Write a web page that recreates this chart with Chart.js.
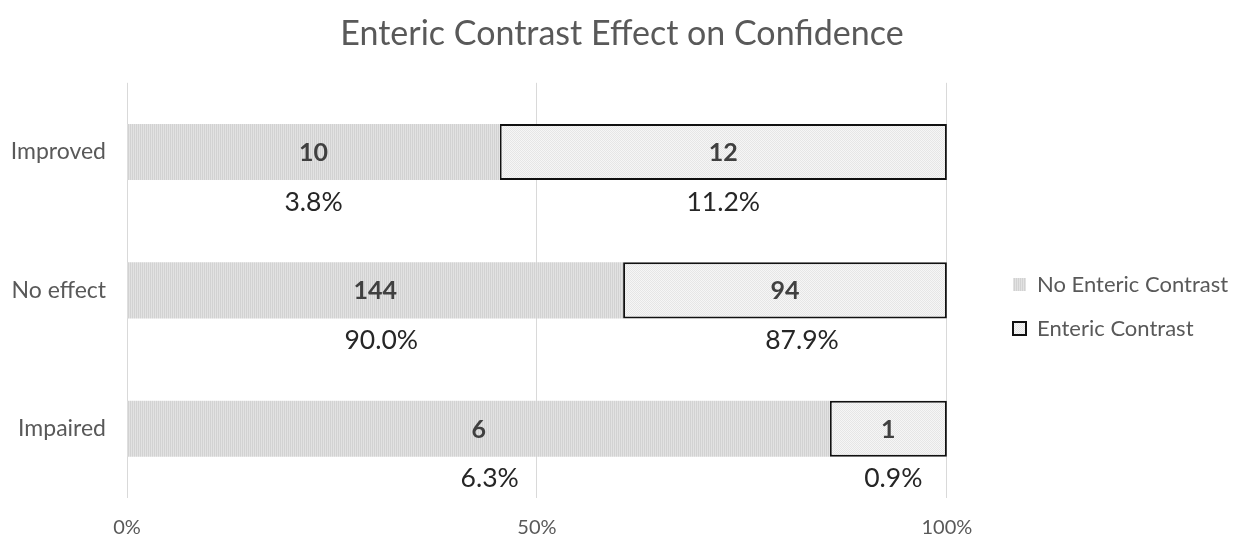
<!DOCTYPE html>
<html>
<head>
<meta charset="utf-8">
<script src="https://cdn.jsdelivr.net/npm/chart.js@4.4.1/dist/chart.umd.min.js"></script>
<style>
  html, body { margin: 0; padding: 0; background: #ffffff; }
  #wrap { width: 1244px; height: 541px; }
</style>
</head>
<body>
<div id="wrap"><canvas id="c" width="1244" height="541"></canvas></div>
<script>
// Categories and counts per group
const categories = ['Improved', 'No effect', 'Impaired'];
const noContrastCounts = [10, 144, 6];
const contrastCounts = [12, 94, 1];
// Group-percentage labels printed under each segment
const noContrastPctLabels = ['3.8%', '90.0%', '6.3%'];
const contrastPctLabels = ['11.2%', '87.9%', '0.9%'];
const xTickLabels = ['0%', '50%', '100%'];
const seriesNames = ['No Enteric Contrast', 'Enteric Contrast'];

// 100% stacked: each row split by its own total
const rowTotals = categories.map((_, i) => noContrastCounts[i] + contrastCounts[i]);
const noContrastShare = noContrastCounts.map((v, i) => v / rowTotals[i] * 100);
const contrastShare = contrastCounts.map((v, i) => v / rowTotals[i] * 100);

const FONT = 'Lato, "Open Sans", sans-serif';

function makePattern(w, h, paint) {
  const cv = document.createElement('canvas');
  cv.width = w; cv.height = h;
  const g = cv.getContext('2d');
  paint(g);
  return g.createPattern(cv, 'repeat');
}
// fine vertical stripes
const stripeFill = makePattern(2, 1, g => {
  g.fillStyle = '#d2d2d2'; g.fillRect(0, 0, 1, 1);
  g.fillStyle = '#e2e2e2'; g.fillRect(1, 0, 1, 1);
});
// fine dotted light fill
const dotFill = makePattern(2, 2, g => {
  g.fillStyle = '#f6f6f6'; g.fillRect(0, 0, 2, 2);
  g.fillStyle = '#e6e6e6'; g.fillRect(0, 0, 1, 1); g.fillRect(1, 1, 1, 1);
});

const pctLabels = [noContrastPctLabels, contrastPctLabels];
const countData = [noContrastCounts, contrastCounts];
// small horizontal nudges of the percentage labels, in px
const pctNudge = [[0, 6, 11], [0, 17, 5]];

const segmentLabels = {
  id: 'segmentLabels',
  afterDatasetsDraw(chart) {
    const ctx = chart.ctx;
    ctx.save();
    ctx.textAlign = 'center';
    ctx.textBaseline = 'middle';
    chart.data.datasets.forEach((ds, di) => {
      const meta = chart.getDatasetMeta(di);
      meta.data.forEach((bar, j) => {
        const cx = (bar.x + bar.base) / 2;
        ctx.fillStyle = '#404040';
        ctx.font = 'bold 25px ' + FONT;
        ctx.fillText(String(countData[di][j]), cx, bar.y + 1);
        ctx.fillStyle = '#262626';
        ctx.font = '26.5px ' + FONT;
        ctx.fillText(pctLabels[di][j], cx + pctNudge[di][j], bar.y + bar.height / 2 + 22);
      });
    });
    ctx.restore();
  }
};

// places the legend block right of the plot and centres the title on the page
const blockPlacement = {
  id: 'blockPlacement',
  afterLayout(chart) {
    const lg = chart.legend;
    if (lg) {
      const dx = 1013 - (lg.left + lg.options.labels.padding);
      lg.left += dx; lg.right += dx;
      lg.top += 36; lg.bottom += 36;
    }
    const tb = chart.titleBlock;
    if (tb) {
      const tx = chart.width / 2 - (tb.left + tb.right) / 2;
      tb.left += tx; tb.right += tx;
    }
  }
};

new Chart(document.getElementById('c'), {
  type: 'bar',
  data: {
    labels: categories,
    datasets: [
      {
        label: seriesNames[0],
        data: noContrastShare,
        backgroundColor: stripeFill,
        borderWidth: 0,
        categoryPercentage: 1,
        barPercentage: 0.405
      },
      {
        label: seriesNames[1],
        data: contrastShare,
        backgroundColor: dotFill,
        borderColor: '#111111',
        borderWidth: 2,
        borderSkipped: false,
        categoryPercentage: 1,
        barPercentage: 0.405
      }
    ]
  },
  options: {
    indexAxis: 'y',
    responsive: false,
    animation: false,
    layout: { padding: { left: 0, right: 50, top: 0, bottom: 0 } },
    plugins: {
      title: {
        display: true,
        text: 'Enteric Contrast Effect on Confidence',
        color: '#595959',
        font: { family: FONT, size: 34, weight: 'normal', lineHeight: 1.2 },
        padding: { top: 14, bottom: 28 }
      },
      legend: {
        position: 'right',
        labels: {
          color: '#595959',
          font: { family: FONT, size: 22 },
          boxWidth: 13,
          boxHeight: 13,
          padding: 22
        }
      },
      tooltip: { enabled: false }
    },
    scales: {
      x: {
        stacked: true,
        min: 0,
        max: 100,
        border: { display: false },
        grid: { color: '#d9d9d9', lineWidth: 1, drawTicks: false },
        ticks: {
          stepSize: 50,
          color: '#595959',
          font: { family: FONT, size: 20 },
          padding: 18,
          callback: (v, i) => xTickLabels[i]
        },
        afterFit(s) { s.height = 43; }
      },
      y: {
        stacked: true,
        border: { display: false },
        grid: { display: false, drawTicks: false },
        ticks: {
          color: '#595959',
          font: { family: FONT, size: 23 },
          padding: 21
        },
        afterFit(s) { s.width = 127; }
      }
    }
  },
  plugins: [segmentLabels, blockPlacement]
});
</script>
</body>
</html>
